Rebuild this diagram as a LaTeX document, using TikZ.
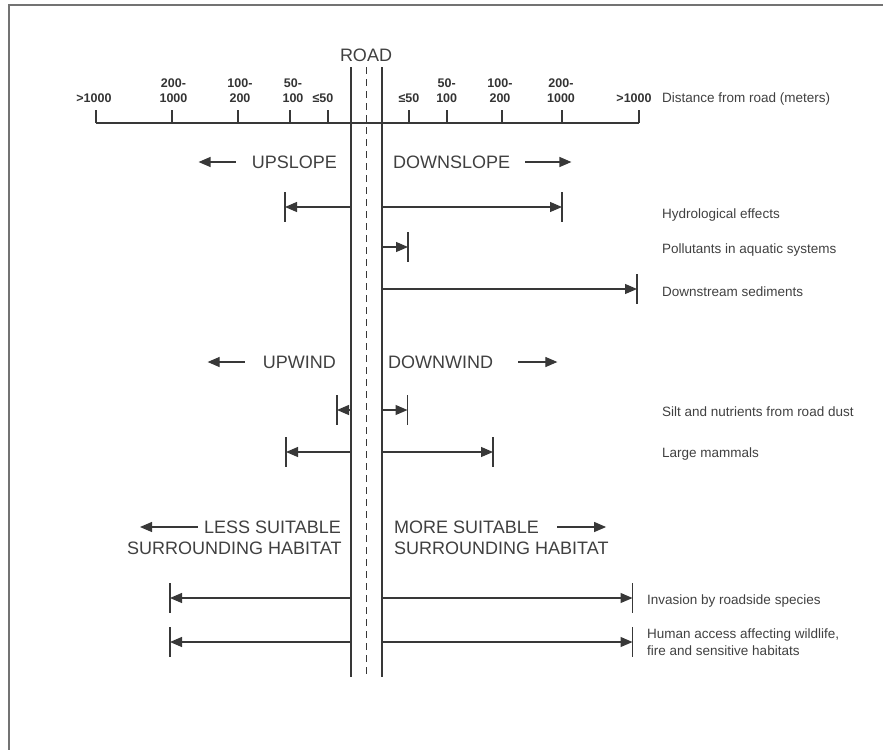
\documentclass[tikz,border=0pt]{standalone}
\usepackage{fontspec}
\setmainfont{Liberation Sans}
\usetikzlibrary{arrows.meta}
\begin{document}
\begin{tikzpicture}[x=1pt,y=-1pt,
  ink/.style={draw=black!78},
  axisline/.style={ink,line width=1.3pt},
  roadline/.style={ink,line width=1.5pt},
  centreline/.style={ink,line width=0.9pt,dash pattern=on 7pt off 5pt},
  tickmark/.style={ink,line width=1.2pt},
  arr/.style={ink,line width=1.2pt,-{Triangle[length=12pt,width=10pt]}},
  numlbl/.style={text=black!80,font=\fontsize{12.5}{15.3}\selectfont\bfseries,align=center,inner sep=0pt,anchor=south},
  caplbl/.style={text=black!75,font=\fontsize{18}{21.5}\selectfont,inner sep=0pt},
  sidelbl/.style={text=black!75,font=\fontsize{13.5}{16.7}\selectfont,inner sep=0pt,align=left},
  framestyle/.style={draw=black!55,line width=1.5pt}
]
\useasboundingbox (0,0) rectangle (883,750);

% frame
\coordinate (fTR) at (883,5);
\coordinate (fTL) at (9,5);
\coordinate (fBL) at (9,750);
\draw[framestyle] (fTR) -- (fTL) -- (fBL);

% road
\coordinate (rlT) at (351,67);  \coordinate (rlB) at (351,677);
\coordinate (rrT) at (382,67);  \coordinate (rrB) at (382,677);
\coordinate (rcT) at (366.5,67); \coordinate (rcB) at (366.5,677);
\draw[roadline] (rlT) -- (rlB);
\draw[roadline] (rrT) -- (rrB);
\draw[centreline] (rcT) -- (rcB);
\node[caplbl] (road) at (366,55) {ROAD};

% distance axis
\coordinate (axL) at (96,123);
\coordinate (axR) at (639,123);
\draw[axisline] (axL) -- (axR);
\foreach \n/\x in {t1/96,t2/172,t3/238,t4/290,t5/328,t6/409,t7/447,t8/502,t9/562,t10/639}{
  \coordinate (\n) at (\x,123);
  \draw[tickmark] (\n) -- ([yshift=13pt]\n);
}
\node[numlbl] (l1) at (94,103) {>1000};
\node[numlbl] (l2) at (173.5,103) {200-\\1000};
\node[numlbl] (l3) at (240,103) {100-\\200};
\node[numlbl] (l4) at (293,103) {50-\\100};
\node[numlbl] (l5) at (323,103) {≤50};
\node[numlbl] (l6) at (409,103) {≤50};
\node[numlbl] (l7) at (446.7,103) {50-\\100};
\node[numlbl] (l8) at (500,103) {100-\\200};
\node[numlbl] (l9) at (561,103) {200-\\1000};
\node[numlbl] (l10) at (634,103) {>1000};
\node[sidelbl,anchor=base west] (dist) at (662,102.5) {Distance from road (meters)};

% slope
\node[caplbl,anchor=east] (ups) at (337,162) {UPSLOPE};
\node[caplbl,anchor=west] (downs) at (393,162) {DOWNSLOPE};
\draw[arr] ([xshift=-16pt]ups.west) -- ([xshift=-53pt]ups.west);
\draw[arr] ([xshift=15pt]downs.east) -- ([xshift=61pt]downs.east);

% wind
\node[caplbl,anchor=east] (upw) at (336,362) {UPWIND};
\node[caplbl,anchor=west] (downw) at (388,362) {DOWNWIND};
\draw[arr] ([xshift=-18pt]upw.west) -- ([xshift=-55pt]upw.west);
\draw[arr] ([xshift=25pt]downw.east) -- ([xshift=64pt]downw.east);

% habitat
\node[caplbl,anchor=east] (less1) at (341,527) {LESS SUITABLE};
\node[caplbl,anchor=east] (less2) at (341.7,548.5) {SURROUNDING HABITAT};
\node[caplbl,anchor=west] (more1) at (394,527) {MORE SUITABLE};
\node[caplbl,anchor=west] (more2) at (394,548.5) {SURROUNDING HABITAT};
\draw[arr] ([xshift=-6pt]less1.west) -- (140,527);
\draw[arr] ([xshift=18pt]more1.east) -- ([xshift=67pt]more1.east);

% effect ranges
\coordinate (hydL) at (285,207);   \coordinate (hydR) at (562,207);
\coordinate (polR) at (408,247);
\coordinate (sedR) at (637,289);
\coordinate (silL) at (337,410);   \coordinate (silR) at (407.5,410);
\coordinate (mamL) at (286,452);   \coordinate (mamR) at (493,452);
\coordinate (invL) at (170,598);   \coordinate (invR) at (632.5,598);
\coordinate (humL) at (170,642);   \coordinate (humR) at (632.5,642);

\foreach \c in {hydL,hydR,polR,sedR,silL,silR,mamL,mamR,invL,invR,humL,humR}{
  \draw[tickmark] ([yshift=15pt]\c) -- ([yshift=-15pt]\c);
}

\draw[arr] (hydL -| rlT) -- (hydL);
\draw[arr] (hydR -| rrT) -- (hydR);
\draw[arr] (polR -| rrT) -- (polR);
\draw[arr] (sedR -| rrT) -- (sedR);
\draw[arr] (silL -| rlT) -- (silL);
\draw[arr] (silR -| rrT) -- (silR);
\draw[arr] (mamL -| rlT) -- (mamL);
\draw[arr] (mamR -| rrT) -- (mamR);
\draw[arr] (invL -| rlT) -- (invL);
\draw[arr] (invR -| rrT) -- (invR);
\draw[arr] (humL -| rlT) -- (humL);
\draw[arr] (humR -| rrT) -- (humR);

% side labels
\node[sidelbl,anchor=base west] (hyd) at (662,218) {Hydrological effects};
\node[sidelbl,anchor=base west] (pol) at (662,253) {Pollutants in aquatic systems};
\node[sidelbl,anchor=base west] (sed) at (662,296) {Downstream sediments};
\node[sidelbl,anchor=base west] (sil) at (662,416) {Silt and nutrients from road dust};
\node[sidelbl,anchor=base west] (mam) at (662,457) {Large mammals};
\node[sidelbl,anchor=base west] (inv) at (647,604) {Invasion by roadside species};
\node[sidelbl,anchor=west] (hum) at (647,642) {Human access affecting wildlife,\\fire and sensitive habitats};
\end{tikzpicture}
\end{document}
